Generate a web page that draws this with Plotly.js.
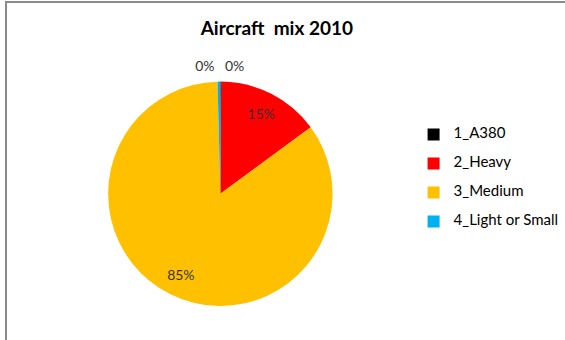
<!DOCTYPE html>
<html><head><meta charset="utf-8">
<script src="https://cdn.plot.ly/plotly-3.0.1.min.js"></script>
<style>
html,body{margin:0;padding:0;background:#fff;}
#frame{position:absolute;left:5px;top:1px;width:560px;height:339px;border-left:2px solid #8a8a8a;border-top:2px solid #8a8a8a;box-sizing:border-box;}
#chart{position:absolute;left:0;top:0;width:565px;height:340px;}
</style>
</head><body>
<div id="chart"></div>
<div id="frame"></div>
<script>
const categories = ['1_A380', '2_Heavy', '3_Medium', '4_Light or Small'];
const shares = [0.1, 14.8, 84.7, 0.4];
const colors = ['#000000', '#ff0000', '#ffc000', '#00b0f0'];
const insideLabelPos = ['none', 'inside', 'inside', 'none'];
const outsideLabelPos = ['outside', 'none', 'none', 'outside'];

// legend entries: a blank second line widens the spacing between items
const legendLabels = categories.map(c => '<span style="font-size:15px">' + c + '</span><br> ');

const domain = {x: [0.19, 0.59], y: [0.10, 0.76]};
const outerDomain = {x: [0.1776, 0.6024], y: [0.076, 0.784]};
const labelFont = {family: 'Lato, "Open Sans", sans-serif', size: 14, color: '#333333'};
const clear = colors.map(() => 'rgba(0,0,0,0)');

const common = {
  type: 'pie',
  labels: legendLabels,
  values: shares,
  sort: false,
  direction: 'clockwise',
  rotation: 0
};

// filled pie
const pie = Object.assign({}, common, {
  marker: {colors: colors, line: {width: 0}},
  textinfo: 'none',
  hoverinfo: 'percent',
  domain: domain
});

// transparent ring over it, carrying the inside percentage labels at ~0.8 radius
const insideRing = Object.assign({}, common, {
  hole: 0.6,
  showlegend: false,
  marker: {colors: clear, line: {width: 0}},
  texttemplate: '%{percent:.0%}',
  textposition: insideLabelPos,
  textfont: labelFont,
  insidetextorientation: 'horizontal',
  hoverinfo: 'skip',
  domain: domain
});

// slightly larger transparent pie for the outside labels of the thin slices
const outsideRing = Object.assign({}, common, {
  hole: 0.9,
  showlegend: false,
  marker: {colors: clear, line: {width: 0}},
  texttemplate: '%{percent:.0%}',
  textposition: outsideLabelPos,
  textfont: labelFont,
  hoverinfo: 'skip',
  domain: outerDomain
});

const layout = {
  width: 565, height: 340,
  margin: {l: 0, r: 0, t: 0, b: 0},
  paper_bgcolor: '#ffffff',
  title: {text: '<b>Aircraft  mix 2010</b>', x: 0.49, xanchor: 'center', y: 0.918, yanchor: 'middle',
          font: {family: 'Lato, "Open Sans", sans-serif', size: 19, color: '#000000'}},
  showlegend: true,
  legend: {x: 0.732, y: 0.643, xanchor: 'left', yanchor: 'top', valign: 'top',
           font: {family: 'Lato, "Open Sans", sans-serif', size: 10, color: '#000000'},
           traceorder: 'normal', itemwidth: 30}
};

Plotly.newPlot('chart', [pie, insideRing, outsideRing], layout, {displayModeBar: false, staticPlot: true});
</script>
</body></html>
